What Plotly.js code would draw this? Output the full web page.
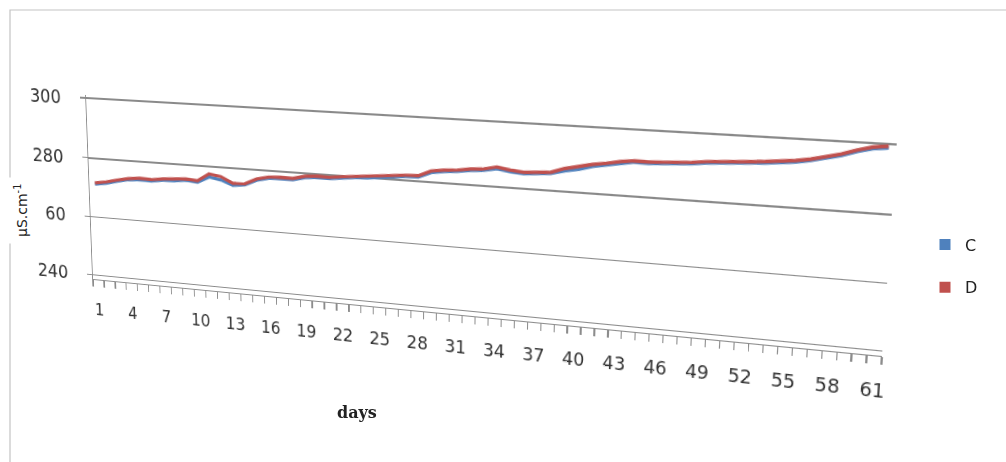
<!DOCTYPE html>
<html>
<head>
<meta charset="utf-8">
<script src="https://cdn.plot.ly/plotly-3.0.1.min.js"></script>
<style>
html,body{margin:0;padding:0;background:#fff;}
#wrap{position:relative;width:1006px;height:462px;overflow:hidden;background:#fff;}
#wall{position:absolute;left:0;top:0;transform-origin:0 0;}
#frame{position:absolute;left:0;top:0;width:1006px;height:462px;pointer-events:none;}
</style>
</head>
<body>
<div id="wrap"><div id="wall"></div><div id="frame"></div></div>
<script>
// ---- data ----
var days = [1,2,3,4,5,6,7,8,9,10,11,12,13,14,15,16,17,18,19,20,21,22,23,24,25,26,27,28,29,30,31,32,33,34,35,36,37,38,39,40,41,42,43,44,45,46,47,48,49,50,51,52,53,54,55,56,57,58,59,60,61];
var dayLabels = ["1","","","4","","","7","","","10","","","13","","","16","","","19","","","22","","","25","","","28","","","31","","","34","","","37","","","40","","","43","","","46","","","49","","","52","","","55","","","58","","","61"];
var seriesC = [271.3,271.8,272.8,273.6,273.9,273.7,274.3,274.4,274.9,274.5,276.5,275.8,274.3,274.8,276.6,277.5,277.7,277.6,278.6,278.9,278.8,279.3,279.7,279.9,280.3,280.9,281.2,281.3,283.0,283.6,283.9,284.5,284.8,285.6,284.9,284.6,284.8,285.2,286.3,287.0,288.2,288.9,289.8,290.3,290.2,290.4,290.6,290.9,291.4,291.6,291.8,292.2,292.5,292.9,293.3,294.0,294.9,296.0,297.4,298.5,298.9];
var seriesD = [271.7,272.3,273.2,274.0,274.4,274.2,274.7,274.9,275.3,275.0,277.5,276.9,275.0,275.1,277.0,277.9,278.1,278.0,279.0,279.3,279.2,279.7,280.1,280.3,280.7,281.3,281.6,281.7,283.5,284.0,284.3,284.9,285.2,286.1,285.4,285.0,285.2,285.6,287.0,287.9,288.8,289.4,290.2,290.7,290.6,290.8,291.0,291.3,291.8,292.0,292.2,292.6,292.9,293.3,293.7,294.4,295.3,296.4,297.8,298.9,299.4];
var yTickVals = [240,260,280,300];
var yTickText = ["240","60","280","300"];
var names = ["C","D"];
var colors = ["#4F81BD","#C0504D"];
var yTitle = "µS.cm<sup>-1</sup>";
var xTitle = "days";

// ---- wall chart (flat, then put in perspective with a CSS transform) ----
var L = 90, R = 20, T = 30, B = 45, PW = 790, PH = 190;
var W = L + PW + R, H = T + PH + B;
// target screen corners of the plot area: TL, TR, BR, BL
var quad = [[86,95],[897,141],[882,356],[93,279]];

var wallTraces = [
  {type:"scatter", mode:"lines", name:names[0], x:days, y:seriesC, line:{color:colors[0], width:3.2}, showlegend:false},
  {type:"scatter", mode:"lines", name:names[1], x:days, y:seriesD, line:{color:colors[1], width:3.2}, showlegend:false}
];
var wallLayout = {
  width:W, height:H, margin:{l:L, r:R, t:T, b:B},
  paper_bgcolor:"rgba(0,0,0,0)", plot_bgcolor:"rgba(0,0,0,0)",
  font:{family:"DejaVu Sans, Verdana, sans-serif", color:"#333"},
  showlegend:false,
  xaxis:{range:[0.5,61.5], tickmode:"array", tickvals:days, ticktext:dayLabels, ticks:"",
         ticklabelstandoff:16, tickfont:{size:17, color:"#333"},
         showgrid:false, zeroline:false, showline:true, linecolor:"#8c8c8c", linewidth:1.4,
         minor:{tick0:0.5, dtick:1, ticks:"outside", ticklen:7, tickwidth:1.2, tickcolor:"#8c8c8c", showgrid:false}},
  yaxis:{range:[238.5,301], tickmode:"array", tickvals:yTickVals, ticktext:yTickText,
         ticks:"outside", ticklen:6, tickcolor:"#8c8c8c", tickwidth:1.2, ticklabelstandoff:18,
         ticklabeloverflow:"allow", tickfont:{size:19, color:"#333"}, showgrid:true, gridcolor:"#8a8a8a", gridwidth:1.4,
         zeroline:false, showline:true, linecolor:"#8c8c8c", linewidth:1.4}
};

function squareToQuad(q){
  var x0=q[0][0],y0=q[0][1],x1=q[1][0],y1=q[1][1],x2=q[2][0],y2=q[2][1],x3=q[3][0],y3=q[3][1];
  var dx1=x1-x2, dx2=x3-x2, dx3=x0-x1+x2-x3, dy1=y1-y2, dy2=y3-y2, dy3=y0-y1+y2-y3;
  var den=dx1*dy2-dx2*dy1;
  var g=(dx3*dy2-dx2*dy3)/den, h=(dx1*dy3-dx3*dy1)/den;
  return [[x1-x0+g*x1, x3-x0+h*x3, x0],[y1-y0+g*y1, y3-y0+h*y3, y0],[g, h, 1]];
}
function mul(A,Bm){
  var C=[[0,0,0],[0,0,0],[0,0,0]];
  for(var i=0;i<3;i++)for(var j=0;j<3;j++)for(var k=0;k<3;k++)C[i][j]+=A[i][k]*Bm[k][j];
  return C;
}
var Hm = squareToQuad(quad);
var S = [[1/PW,0,-L/PW],[0,1/PH,-T/PH],[0,0,1]];
var M = mul(Hm,S);
var wallDiv = document.getElementById("wall");
wallDiv.style.width = W+"px"; wallDiv.style.height = H+"px";
wallDiv.style.transform = "matrix3d("+[M[0][0],M[1][0],0,M[2][0], M[0][1],M[1][1],0,M[2][1], 0,0,1,0, M[0][2],M[1][2],0,M[2][2]].join(",")+")";

Plotly.newPlot(wallDiv, wallTraces, wallLayout, {displayModeBar:false, staticPlot:true});

// ---- frame: border, titles, legend ----
var frameTraces = [
  {type:"scatter", mode:"markers", name:names[0], x:[null], y:[null], legendgroup:"c",
   marker:{symbol:"square", size:11, color:colors[0]}},
  {type:"scatter", mode:"markers", name:names[1], x:[null], y:[null], legendgroup:"d",
   marker:{symbol:"square", size:11, color:colors[1]}}
];
var frameLayout = {
  width:1006, height:462, margin:{l:0,r:0,t:0,b:0},
  paper_bgcolor:"rgba(0,0,0,0)", plot_bgcolor:"rgba(0,0,0,0)",
  font:{family:"DejaVu Sans, Verdana, sans-serif", color:"#222"},
  xaxis:{visible:false}, yaxis:{visible:false},
  showlegend:true,
  legend:{x:925/1006, y:1-266/462, xanchor:"left", yanchor:"middle", tracegroupgap:19,
          font:{size:16, color:"#222"}, bgcolor:"rgba(0,0,0,0)"},
  shapes:[
    {type:"rect", xref:"paper", yref:"paper", x0:10/1006, x1:1.01, y0:-0.02, y1:1-10/462,
     line:{color:"#c4c4c4", width:1.2}, fillcolor:"rgba(0,0,0,0)"}
  ],
  annotations:[
    {text:yTitle, xref:"paper", yref:"paper", x:21/1006, y:1-211/462, xanchor:"center", yanchor:"middle",
     showarrow:false, textangle:-90, font:{size:14, color:"#222"}, bgcolor:"#ffffff", borderpad:6},
    {text:"<b>"+xTitle+"</b>", xref:"paper", yref:"paper", x:357/1006, y:1-412/462, xanchor:"center", yanchor:"middle",
     showarrow:false, font:{size:16, family:"DejaVu Serif, Liberation Serif, serif", color:"#222"}}
  ]
};
Plotly.newPlot("frame", frameTraces, frameLayout, {displayModeBar:false, staticPlot:true});
</script>
</body>
</html>
